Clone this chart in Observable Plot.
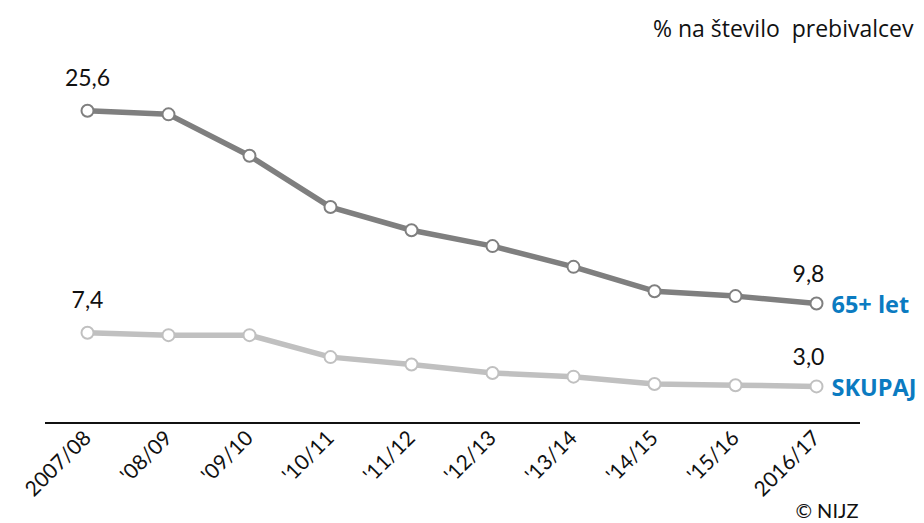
<!DOCTYPE html>
<html>
<head>
<meta charset="utf-8">
<script src="https://cdn.jsdelivr.net/npm/d3@7"></script>
<script src="https://cdn.jsdelivr.net/npm/@observablehq/plot@0.6"></script>
<style>
  html, body { margin: 0; padding: 0; background: #fff; }
  #chart svg { display: block; }
</style>
</head>
<body>
<div id="chart"></div>
<script>
const seasons = ["2007/08", "'08/09", "'09/10", "'10/11", "'11/12", "'12/13", "'13/14", "'14/15", "'15/16", "2016/17"];
const senior = [25.6, 25.3, 21.9, 17.7, 15.8, 14.5, 12.8, 10.8, 10.4, 9.8];
const total = [7.4, 7.2, 7.2, 5.4, 4.8, 4.1, 3.8, 3.2, 3.1, 3.0];
const seriesNames = ["65+ let", "SKUPAJ"];
const title = "% na število  prebivalcev";
const caption = "© NIJZ";

const rows = [];
seasons.forEach((s, i) => {
  rows.push({season: s, value: senior[i], series: seriesNames[0]});
  rows.push({season: s, value: total[i], series: seriesNames[1]});
});
const fmt = v => v.toFixed(1).replace(".", ",");
const firsts = rows.filter(d => d.season === seasons[0]);
const lasts = rows.filter(d => d.season === seasons[seasons.length - 1]);
const colors = {"65+ let": "#7f7f7f", "SKUPAJ": "#c0c0c0"};

const chart = Plot.plot({
  width: 924,
  height: 523,
  marginLeft: 45,
  marginRight: 64,
  marginTop: 0,
  marginBottom: 99,
  style: {fontFamily: "Lato, 'Open Sans', sans-serif", background: "#fff"},
  x: {type: "point", domain: seasons, range: [85, 818], padding: 0},
  y: {domain: [0, 30], range: [422.5, 56.5], axis: null},
  marks: [
    Plot.ruleY([0], {stroke: "#111", strokeWidth: 2}),
    Plot.axisX({tickSize: 0, tickRotate: -45, tickPadding: 10, fontSize: 21, label: null, fill: "#111"}),
    Plot.line(rows, {x: "season", y: "value", z: "series", stroke: d => colors[d.series], strokeWidth: 5.5}),
    Plot.dot(rows, {x: "season", y: "value", r: 6, fill: "#fff", stroke: d => colors[d.series], strokeWidth: 2}),
    Plot.text(firsts, {x: "season", y: "value", text: d => fmt(d.value), dy: -32, fontSize: 23, fill: "#111"}),
    Plot.text(lasts, {x: "season", y: "value", text: d => fmt(d.value), dy: -29, dx: -8, fontSize: 23, fill: "#111"}),
    Plot.text(lasts, {x: "season", y: "value", text: "series", textAnchor: "start", dx: 15, dy: 2, fontSize: 23.5, fontWeight: "bold", fill: "#0b7bc1", fontFamily: "'Open Sans', sans-serif"}),
    Plot.text([title], {frameAnchor: "top-right", dx: 53, dy: 20, text: d => d, fontSize: 23, fill: "#111", fontFamily: "'Open Sans', sans-serif"}),
    Plot.text([caption], {frameAnchor: "bottom-right", dx: -2, dy: 93, text: d => d, fontSize: 20, fill: "#111"})
  ]
});
document.getElementById("chart").appendChild(chart);
</script>
</body>
</html>
